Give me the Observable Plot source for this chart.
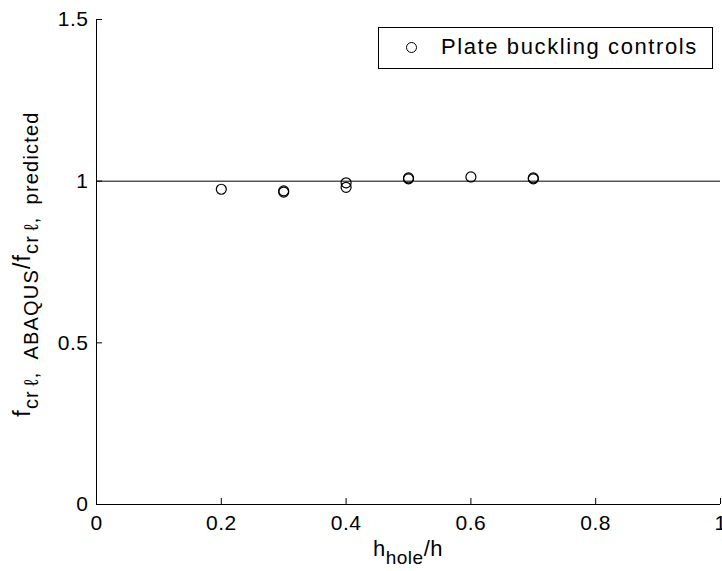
<!DOCTYPE html>
<html><head><meta charset="utf-8">
<script src="https://cdn.jsdelivr.net/npm/d3@7"></script>
<script src="https://cdn.jsdelivr.net/npm/@observablehq/plot@0.6"></script>
<style>
body{margin:0;background:#fff;font-family:"Liberation Sans",Arial,sans-serif}
#wrap{position:relative;width:722px;height:571px}
#legend{position:absolute;left:378px;top:27px;width:335px;height:42px;border:1px solid #000;box-sizing:border-box;background:#fff;font-size:22px;color:#000}
#legend .mk{position:absolute;left:27px;top:14px;width:11px;height:11px;border:1px solid #000;border-radius:50%;box-sizing:border-box}
#legend .tx{position:absolute;left:62px;top:6px;white-space:nowrap;letter-spacing:1.6px}
</style></head><body><div id="wrap"></div>
<script>
const hRatio = [0.2, 0.3, 0.3, 0.4, 0.4, 0.5, 0.5, 0.6, 0.7, 0.7];
const fRatio = [0.975, 0.970, 0.966, 0.995, 0.981, 1.010, 1.007, 1.013, 1.010, 1.007];
const xTicks = [0, 0.2, 0.4, 0.6, 0.8, 1];
const xTickLabels = ["0", "0.2", "0.4", "0.6", "0.8", "1"];
const yTicks = [0, 0.5, 1, 1.5];
const yTickLabels = ["0", "0.5", "1", "1.5"];
const referenceLevel = [1];
const legendLabel = "Plate buckling controls";

const data = hRatio.map((h, i) => ({h, f: fRatio[i]}));

const chart = Plot.plot({
  width: 722, height: 571,
  marginLeft: 96, marginRight: 2, marginTop: 19, marginBottom: 67,
  x: {domain: [0, 1]},
  y: {domain: [0, 1.5]},
  style: {fontFamily: "Liberation Sans, Arial, sans-serif", fontSize: "21px", color: "#000", background: "#fff", letterSpacing: "0.5px"},
  marks: [
    Plot.ruleY(referenceLevel, {stroke: "#000", strokeWidth: 1}),
    Plot.ruleX([0], {stroke: "#000"}),
    Plot.ruleY([0], {stroke: "#000"}),
    Plot.axisX({ticks: xTicks, tickFormat: (d) => xTickLabels[xTicks.indexOf(d)], tickSize: 0, tickPadding: 11, label: null}),
    Plot.axisX({ticks: xTicks, tickSize: 6, dy: -6, fill: "none", label: null}),
    Plot.axisY({ticks: yTicks, tickFormat: (d) => yTickLabels[yTicks.indexOf(d)], tickSize: 0, tickPadding: 8, label: null}),
    Plot.axisY({ticks: yTicks, tickSize: 6, dx: 6, fill: "none", label: null}),
    Plot.dot(data, {x: "h", y: "f", r: 5, stroke: "#000", strokeWidth: 1.2, fill: "none"})
  ]
});
document.getElementById("wrap").appendChild(chart);

const svg = d3.select(chart);
const yl = svg.append("text")
  .attr("transform", "translate(30,264) rotate(-90)")
  .attr("text-anchor", "middle")
  .attr("font-size", 23)
  .attr("letter-spacing", "1.2px")
  .attr("fill", "#000");
yl.append("tspan").text("f");
yl.append("tspan").attr("font-size", 20).attr("dy", 8).text("cr");
yl.append("tspan").attr("font-size", 20).attr("dx", 4).text("\u2113,");
yl.append("tspan").attr("font-size", 20).attr("dx", 12).text("ABAQUS");
yl.append("tspan").attr("dy", -8).text("/f");
yl.append("tspan").attr("font-size", 20).attr("dy", 8).text("cr");
yl.append("tspan").attr("font-size", 20).attr("dx", 4).text("\u2113,");
yl.append("tspan").attr("font-size", 20).attr("dx", 12).text("predicted");

const xl = svg.append("text")
  .attr("x", 408).attr("y", 556)
  .attr("text-anchor", "middle")
  .attr("font-size", 22)
  .attr("fill", "#000");
xl.append("tspan").text("h");
xl.append("tspan").attr("font-size", 19).attr("dy", 8).text("hole");
xl.append("tspan").attr("dy", -8).text("/h");

const lg = document.createElement("div");
lg.id = "legend";
lg.innerHTML = '<div class="mk"></div><div class="tx"></div>';
lg.querySelector(".tx").textContent = legendLabel;
document.getElementById("wrap").appendChild(lg);
</script>
</body></html>
